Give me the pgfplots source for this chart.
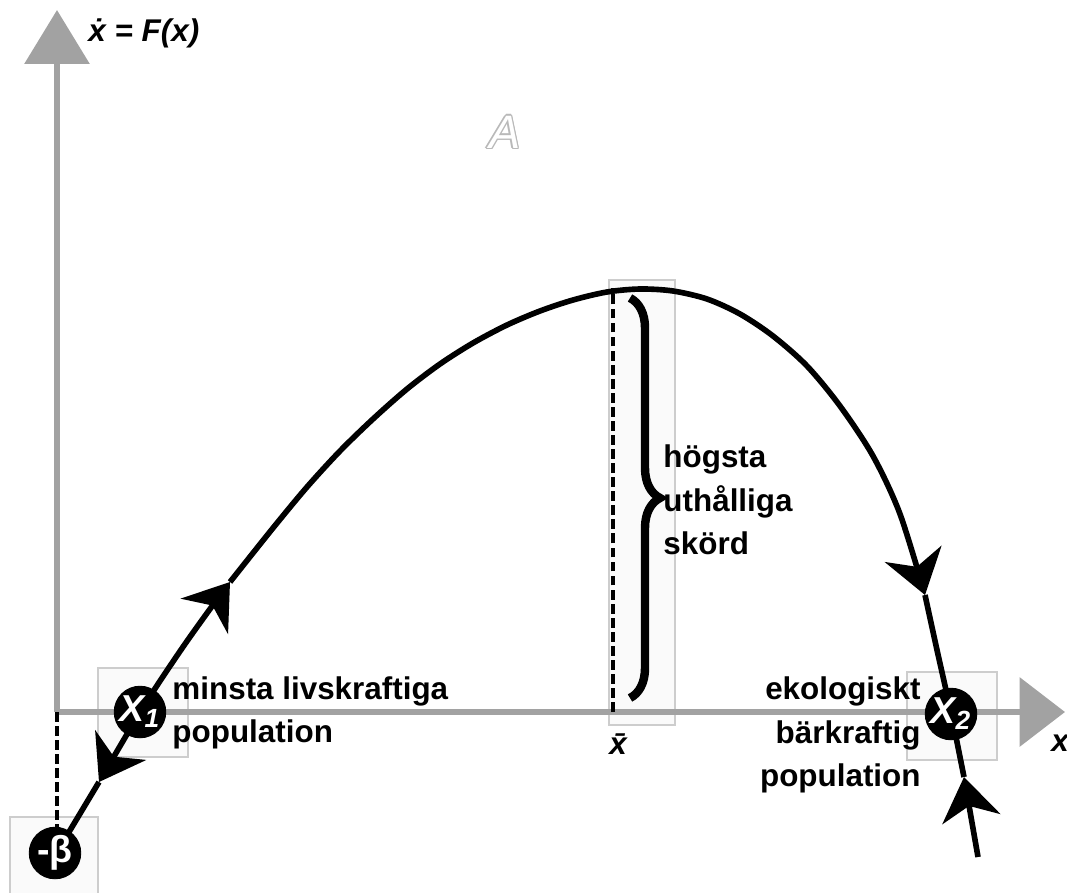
\documentclass[border=0pt]{standalone}
\usepackage{fontspec}
\setmainfont{Liberation Sans}
\usepackage{pgfplots}
\pgfplotsset{compat=1.18}
\usetikzlibrary{arrows.meta,decorations.pathreplacing}

\definecolor{axisgray}{RGB}{162,162,162}
\definecolor{framegray}{RGB}{205,205,205}

\tikzset{
  flow/.style={black, line width=2.4pt},
  head/.style={-{Stealth[length=0.64cm,width=0.88cm,inset=0.2cm]}},
  guide/.style={black, line width=1.9pt, dash pattern=on 4.2pt off 1.8pt},
  frame/.style={draw=framegray, fill=gray!4, line width=0.6pt},
  lbl/.style={font=\bfseries\fontsize{13.4}{18.5}\selectfont, inner sep=0pt},
  ghost/.style={text=gray!55, font=\itshape\fontsize{20}{20}\selectfont},
}
% one shifted gray copy of the region letter
\newcommand{\ghostA}[2]{\node[ghost, xshift=#1pt, yshift=#2pt] at (axis cs:448,580) {A};}

\begin{document}
\begin{tikzpicture}
\begin{axis}[
  x=0.015cm, y=0.015cm,
  xmin=-57, xmax=1010, ymin=-180, ymax=712,
  hide axis, clip=false,
]
\coordinate (BL) at (axis cs:-57,-180);
\coordinate (TR) at (axis cs:1010,712);

% faint frames behind the labelled points and the brace
\draw[frame] (axis cs:41,-45) rectangle (axis cs:131,44);
\draw[frame] (axis cs:-47,-185) rectangle (axis cs:41,-105);
\draw[frame] (axis cs:850,-48) rectangle (axis cs:940,40);
\draw[frame] (axis cs:552,-13) rectangle (axis cs:618,432);

% axes
\draw[axisgray, line width=2.8pt, -{Triangle[length=0.81cm,width=0.96cm]}]
  (axis cs:0,0) -- (axis cs:0,702);
\draw[axisgray, line width=2.8pt, -{Triangle[length=0.68cm,width=1.02cm]}]
  (axis cs:0,0) -- (axis cs:1008,0);

% dashed guides
\addplot[guide] coordinates {(556,0) (556,424)};
\addplot[guide] coordinates {(0,0) (0,-118)};

% growth curve F(x) with flow arrows
\addplot[flow, head] coordinates {(83,0) (42,-70)};
\addplot[flow] coordinates {(42,-70) (0,-140)};
\addplot[flow, smooth, head] coordinates {(83,0) (103,31) (128,68) (153,103) (173,130)};
\addplot[flow, smooth, head] coordinates {
  (173,130) (216,184) (250,225) (283,261) (316,293) (350,323) (383,348)
  (416,369) (450,387) (483,401) (516,412) (550,420) (583,423) (616,421)
  (650,413) (683,398) (716,376) (750,346) (783,306) (816,256) (843,198)
  (868,117)};
\addplot[flow, smooth] coordinates {(868,117) (880,62) (894,0)};
\addplot[flow, head] coordinates {(921,-145) (907,-65)};
\addplot[flow] coordinates {(907,-65) (894,0)};

% brace for the maximum sustainable yield
\draw[decorate, decoration={brace, amplitude=0.45cm}, line width=3.6pt]
  (axis cs:573,414) -- (axis cs:573,14);

% equilibrium points and intercept
\addplot[only marks, mark=*, mark size=11pt, black,
  nodes near coords, point meta=explicit symbolic,
  every node near coord/.append style={anchor=center, text=white,
    font=\bfseries\itshape\fontsize{16}{16}\selectfont}]
  coordinates {
    (83,0) [X\textsubscript{1}]
    (894,-2) [X\textsubscript{2}]
    (-2,-141) [\upshape -β]
  };

% labels
\node[lbl, anchor=west, align=left] at (axis cs:115,-1)
  {minsta livskraftiga\\population};
\node[lbl, anchor=west, align=left] at (axis cs:606,212)
  {högsta\\uthålliga\\skörd};
\node[lbl, anchor=east, align=right] at (axis cs:864,-23)
  {ekologiskt\\bärkraftig\\population};
\node[lbl, anchor=west, font=\bfseries\itshape\fontsize{13.4}{16}\selectfont]
  at (axis cs:31,679) {\.{x} = F(x)};
\node[lbl, font=\bfseries\itshape\fontsize{13.4}{16}\selectfont]
  at (axis cs:561,-32) {\={x}};
\node[lbl, font=\bfseries\itshape\fontsize{13.4}{16}\selectfont]
  at (axis cs:1003,-31) {x};

% outlined region letter
\ghostA{0.6}{0}\ghostA{-0.6}{0}\ghostA{0}{0.6}\ghostA{0}{-0.6}
\ghostA{0.45}{0.45}\ghostA{-0.45}{0.45}\ghostA{0.45}{-0.45}\ghostA{-0.45}{-0.45}
\node[text=white, font=\itshape\fontsize{20}{20}\selectfont] at (axis cs:448,580) {A};
\end{axis}
\pgfresetboundingbox
\path[use as bounding box] (BL) rectangle (TR);
\end{tikzpicture}
\end{document}
